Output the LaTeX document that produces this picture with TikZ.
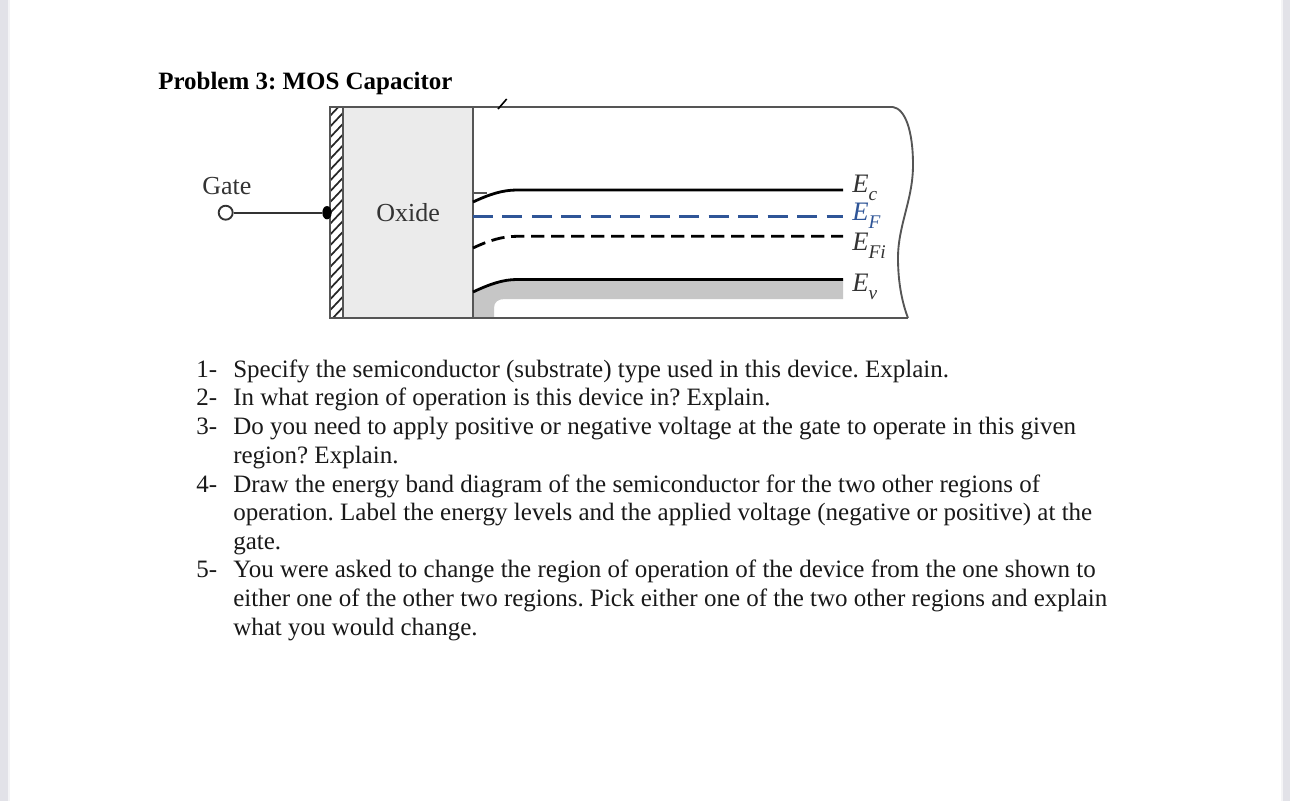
\documentclass[tikz,border=0pt]{standalone}
\usepackage{fontspec}
\usetikzlibrary{shapes.geometric}
\setmainfont{Liberation Serif}
\frenchspacing
\definecolor{strip}{HTML}{E2E2E8}
\definecolor{oxidefill}{HTML}{EBEBEB}
\definecolor{bandgray}{HTML}{C6C6C6}
\definecolor{wallline}{HTML}{555555}
\definecolor{fermi}{HTML}{2F5597}
\definecolor{labelink}{HTML}{333333}
\newcommand{\sublabel}[1]{\raisebox{-0.3em}{\fontsize{14.5pt}{15pt}\selectfont #1}}
\tikzset{
  bodytext/.style={anchor=base west,inner sep=0pt,font=\fontsize{18.75pt}{22pt}\selectfont,text=black!90},
  titletext/.style={anchor=base west,inner sep=0pt,font=\fontsize{18.72pt}{22pt}\selectfont\bfseries},
  figtext/.style={anchor=base west,inner sep=0pt,font=\fontsize{19.5pt}{22pt}\selectfont,text=labelink},
  bandtext/.style={anchor=base west,inner sep=0pt,font=\fontsize{20pt}{22pt}\selectfont\itshape,text=labelink},
  wall/.style={draw=wallline,line width=1.4pt},
  bandline/.style={draw=black,line width=2.1pt},
}
\begin{document}
\begin{tikzpicture}[x=0.75pt,y=-0.75pt]
\useasboundingbox (0,0) rectangle (1290,801);
\fill[white] (0,0) rectangle (1290,801);
\fill[strip] (0,0) rectangle (8,801);
\fill[strip!40] (8,0) rectangle (10,801);
\fill[strip] (1283,0) rectangle (1290,801);
\fill[strip!40] (1281,0) rectangle (1283,801);

\node[titletext] (title) at (158,89) {Problem 3: MOS Capacitor};

% oxide and metal
\fill[oxidefill] (343,107) rectangle (473,318);
\begin{scope}
  \clip (330,107) rectangle (343,318);
  \foreach \k in {0,...,20} {
    \draw[black!85,line width=1.3pt] (328,{118+\k*10.8}) -- (345,{100+\k*10.8});
  }
\end{scope}

% valence band shading
\fill[bandgray] (473,292) .. controls (490,284) and (503,279.5) .. (517,279.5) -- (843,279.5) -- (843,299) -- (505,299)
  .. controls (498,299) and (494,302) .. (494,308) -- (494,318) -- (473,318) -- cycle;

% outline
\draw[wall] (893,107) -- (330,107) -- (330,318) -- (908,318);
\draw[wall] (343,107) -- (343,318);
\draw[wall] (473,107) -- (473,318);
\draw[wall] (893,107) .. controls (905,109) and (913,130) .. (913,165)
  .. controls (913,200) and (898,225) .. (898,258)
  .. controls (898,285) and (903,305) .. (908,318);
\draw[black,line width=1.2pt] (498,109) -- (506.7,99);

% gate
\node[draw=black!80,fill=white,circle,line width=1.4pt,minimum size=10.5pt,inner sep=0pt] (gatepin) at (225.7,212.7) {};
\node[fill=black,ellipse,minimum width=7pt,minimum height=10pt,inner sep=0pt] (gatedot) at (327,212.7) {};
\draw[black!80,line width=1.4pt] (gatepin) -- (gatedot);
\node[figtext] (gatelabel) at (202,194) {Gate};
\node[figtext] (oxidelabel) at (376,221.5) {Oxide};

% bands
\draw[bandline] (473,202) .. controls (490,194) and (503,190) .. (517,190) -- (843,190);
\draw[wallline,line width=1pt] (473,193) -- (487,193);
\draw[wallline,line width=1.4pt] (473,185) -- (473,193);
\draw[fermi,line width=2.2pt,dash pattern=on 15pt off 7.1pt] (473,216.7) -- (843,216.7);
\draw[black,line width=2.1pt,dash pattern=on 10pt off 5pt] (473,248) .. controls (490,240) and (503,236.3) .. (517,236.3) -- (843,236.3);
\draw[bandline] (473,292) .. controls (490,284) and (503,279.5) .. (517,279.5) -- (843,279.5);

\node[bandtext] (ec) at (852,192) {E\sublabel{c}};
\node[bandtext,text=fermi] (ef) at (852,220) {E\sublabel{F}};
\node[bandtext] (efi) at (852,250) {E\sublabel{Fi}};
\node[bandtext] (ev) at (852,291) {E\sublabel{v}};

% questions
\node[bodytext] (n1) at (196,377.5) {1-};
\node[bodytext] (l1) at (233,377.5) {Specify the semiconductor (substrate) type used in this device. Explain.};
\node[bodytext] (n2) at (196,405.5) {2-};
\node[bodytext] (l2) at (233,405.5) {In what region of operation is this device in? Explain.};
\node[bodytext] (n3) at (196,434.5) {3-};
\node[bodytext] (l3) at (233,434.5) {Do you need to apply positive or negative voltage at the gate to operate in this given};
\node[bodytext] (l3b) at (233,463.5) {region? Explain.};
\node[bodytext] (n4) at (196,492.5) {4-};
\node[bodytext] (l4) at (233,492.5) {Draw the energy band diagram of the semiconductor for the two other regions of};
\node[bodytext] (l4b) at (233,520.5) {operation. Label the energy levels and the applied voltage (negative or positive) at the};
\node[bodytext] (l4c) at (233,549.5) {gate.};
\node[bodytext] (n5) at (196,577.5) {5-};
\node[bodytext] (l5) at (233,577.5) {You were asked to change the region of operation of the device from the one shown to};
\node[bodytext] (l5b) at (233,606.5) {either one of the other two regions. Pick either one of the two other regions and explain};
\node[bodytext] (l5c) at (233,635.5) {what you would change.};
\end{tikzpicture}
\end{document}
